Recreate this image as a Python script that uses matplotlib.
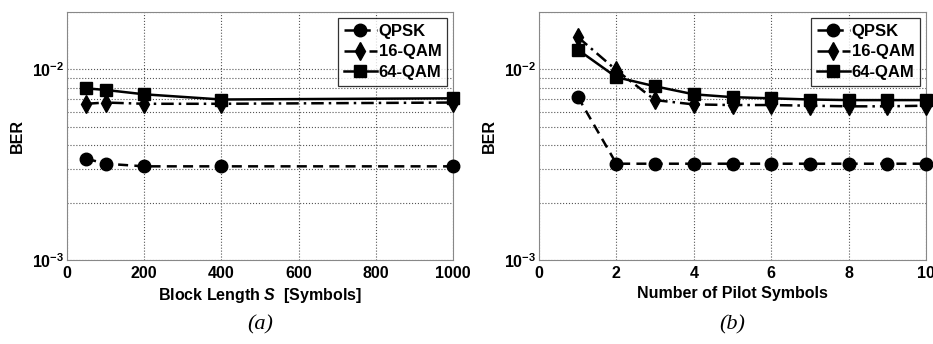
import matplotlib
matplotlib.use("Agg")
import matplotlib.pyplot as plt
from matplotlib.ticker import LogLocator, NullFormatter

plt.rcParams['font.family'] = ['Liberation Sans', 'DejaVu Sans']
plt.rcParams['font.weight'] = 'bold'
plt.rcParams['mathtext.fontset'] = 'custom'
plt.rcParams['mathtext.it'] = 'Liberation Sans:italic:bold'
plt.rcParams['mathtext.rm'] = 'Liberation Sans:bold'
plt.rcParams['mathtext.bf'] = 'Liberation Sans:bold'

# Panel (a): block length
block_len = [50, 100, 200, 400, 1000]
qpsk_a = [3.4e-3, 3.2e-3, 3.1e-3, 3.1e-3, 3.1e-3]
qam16_a = [6.6e-3, 6.7e-3, 6.6e-3, 6.6e-3, 6.7e-3]
qam64_a = [7.95e-3, 7.8e-3, 7.4e-3, 6.95e-3, 7.05e-3]

# Panel (b): number of pilot symbols
pilots = [1, 2, 3, 4, 5, 6, 7, 8, 9, 10]
qpsk_b = [7.2e-3, 3.2e-3, 3.2e-3, 3.2e-3, 3.2e-3, 3.2e-3, 3.2e-3, 3.2e-3, 3.2e-3, 3.2e-3]
qam16_b = [1.48e-2, 9.9e-3, 6.9e-3, 6.55e-3, 6.5e-3, 6.5e-3, 6.45e-3, 6.4e-3, 6.4e-3, 6.45e-3]
qam64_b = [1.27e-2, 9.1e-3, 8.15e-3, 7.4e-3, 7.15e-3, 7.05e-3, 6.95e-3, 6.9e-3, 6.9e-3, 6.9e-3]

labels = ['QPSK', '16-QAM', '64-QAM']
styles = [dict(ls=(0, (4, 2.5)), marker='o', ms=9),
          dict(ls=(0, (5, 2, 1, 2)), marker='d', ms=9),
          dict(ls='-', marker='s', ms=9)]

fig = plt.figure(figsize=(9.33, 3.44), dpi=100)
W, H = 933, 344
ax1 = fig.add_axes([67 / W, 1 - 260 / H, (453 - 67) / W, (260 - 12) / H])
ax2 = fig.add_axes([539 / W, 1 - 260 / H, (926 - 539) / W, (260 - 12) / H])

def style_ax(ax, xlim, xticks, xlabel):
    ax.set_yscale('log')
    ax.set_ylim(1e-3, 2e-2)
    ax.set_xlim(*xlim)
    ax.set_xticks(xticks)
    ax.set_yticks([1e-3, 1e-2])
    ax.yaxis.set_minor_locator(LogLocator(base=10, subs=range(2, 10)))
    ax.yaxis.set_minor_formatter(NullFormatter())
    ax.grid(True, which='major', ls=':', color='#555555', lw=0.8)
    ax.grid(True, which='minor', axis='y', ls=':', color='#555555', lw=0.8)
    ax.tick_params(which='both', direction='in', length=0, labelsize=11.5)
    ax.tick_params(axis='x', pad=4)
    ax.tick_params(axis='y', pad=2)
    for s in ax.spines.values():
        s.set_color('#888888')
    ax.set_xlabel(xlabel, fontsize=11.5, fontweight='bold', labelpad=4)
    ax.set_ylabel('BER', fontsize=11.5, fontweight='bold', labelpad=5)
    for lab in ax.get_xticklabels() + ax.get_yticklabels():
        lab.set_fontweight('bold')

for ax, x, ys in [(ax1, block_len, [qpsk_a, qam16_a, qam64_a]),
                  (ax2, pilots, [qpsk_b, qam16_b, qam64_b])]:
    for y, lab, st in zip(ys, labels, styles):
        ax.plot(x, y, color='black', lw=1.8, label=lab, clip_on=False, zorder=3, **st)
    leg = ax.legend(loc='upper right', prop={'size': 12, 'weight': 'bold'}, frameon=True,
                    fancybox=False, edgecolor='black', handlelength=2.0, handletextpad=0.1,
                    borderaxespad=0.35, borderpad=0.35, labelspacing=0.35)
    leg.get_frame().set_linewidth(0.9)

style_ax(ax1, (0, 1000), [0, 200, 400, 600, 800, 1000], r'Block Length $S$  [Symbols]')
style_ax(ax2, (0, 10), [0, 2, 4, 6, 8, 10], 'Number of Pilot Symbols')

fig.text((67 + 453) / 2 / W, 1 - 325 / H, '(a)', family='Liberation Serif', style='italic',
         fontweight='normal', fontsize=16, ha='center', va='center')
fig.text((539 + 926) / 2 / W, 1 - 325 / H, '(b)', family='Liberation Serif', style='italic',
         fontweight='normal', fontsize=16, ha='center', va='center')

fig.savefig('out.png', dpi=100, facecolor='white')
